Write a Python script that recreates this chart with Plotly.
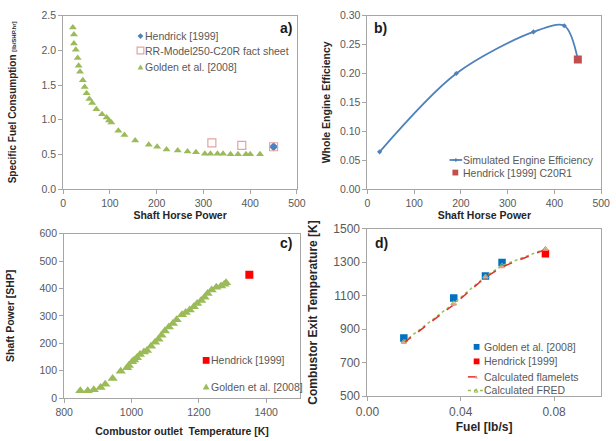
import plotly.graph_objects as go

W, H = 616, 441
FONT = "Liberation Sans, Arial, sans-serif"
TICK_COLOR = "#595959"
TITLE_COLOR = "#262626"
LINE_COLOR = "#A6A6A6"

# ---------------- data ----------------
# panel a
a_golden_shp = [20.7, 23, 23, 27, 31, 33, 36, 42, 46, 50, 56, 62, 71, 83, 93, 98, 103, 118, 131,
                154, 183, 201, 221, 245, 266, 284, 303, 315, 330, 342, 358, 374, 391, 400, 421]
a_golden_sfc = [2.33, 2.23, 2.10, 2.01, 1.89, 1.78, 1.69, 1.57, 1.47, 1.38, 1.30, 1.24, 1.15, 1.08,
                1.03, 0.99, 0.96, 0.84, 0.78, 0.70, 0.64, 0.61, 0.57, 0.555, 0.54, 0.53, 0.51, 0.51,
                0.51, 0.51, 0.50, 0.50, 0.50, 0.50, 0.50]
a_rr_shp = [318, 382, 450]
a_rr_sfc = [0.667, 0.63, 0.61]
a_hend_shp = [450]
a_hend_sfc = [0.61]

# panel b
b_sim_shp = [26, 190, 355, 421, 450]
b_sim_eff = [0.0644, 0.200, 0.272, 0.2826, 0.2244]
b_hend_shp = [450]
b_hend_eff = [0.2244]

# panel c
c_golden_T = [848, 870, 888, 908, 922, 944, 968, 987, 992, 1002, 1008, 1016, 1025, 1037, 1046,
              1058, 1070, 1080, 1089, 1099, 1111, 1123, 1134, 1150, 1161, 1173, 1185, 1195, 1207,
              1217, 1226, 1238, 1252, 1266, 1276, 1281]
c_golden_P = [27, 27, 31, 39, 51, 72, 98, 111, 119, 133, 139, 147, 159, 168, 174, 189, 204, 215,
              229, 245, 259, 272, 286, 304, 312, 321, 333, 345, 356, 368, 382, 394, 404, 409, 415, 421]
c_hend_T = [1350]
c_hend_P = [450]

# panel d
d_golden_fuel = [0.0156, 0.0370, 0.0506, 0.0577]
d_golden_T = [848, 1086, 1218, 1299]
d_hend_fuel = [0.0763]
d_hend_T = [1350]
d_calc_fuel = [0.0156, 0.0370, 0.0506, 0.0577, 0.0763]
d_flamelet_T = [819, 1047, 1210, 1272, 1376]
d_fred_T = [825, 1055, 1215, 1280, 1380]

# ---------------- figure ----------------
fig = go.Figure()

GREEN = "#9BBB59"
BLUE = "#4F81BD"

# a
fig.add_trace(go.Scatter(x=a_golden_shp, y=a_golden_sfc, mode="markers", name="Golden et al. [2008]",
                         marker=dict(symbol="triangle-up", size=7, color=GREEN), xaxis="x", yaxis="y",
                         showlegend=False))
fig.add_trace(go.Scatter(x=a_hend_shp, y=a_hend_sfc, mode="markers", name="Hendrick [1999]",
                         marker=dict(symbol="diamond", size=7, color=BLUE), xaxis="x", yaxis="y",
                         showlegend=False))
fig.add_trace(go.Scatter(x=a_rr_shp, y=a_rr_sfc, mode="markers", name="RR-Model250-C20R fact sheet",
                         marker=dict(symbol="square-open", size=8, color="#E6A3A2", line=dict(width=1.2)),
                         xaxis="x", yaxis="y", showlegend=False))

# b
fig.add_trace(go.Scatter(x=b_sim_shp, y=b_sim_eff, mode="lines+markers", name="Simulated Engine Efficiency",
                         line=dict(color=BLUE, width=1.8, shape="spline", smoothing=0.9),
                         marker=dict(symbol="diamond", size=4, color=BLUE), xaxis="x2", yaxis="y2",
                         showlegend=False))
fig.add_trace(go.Scatter(x=b_hend_shp, y=b_hend_eff, mode="markers", name="Hendrick [1999] C20R1",
                         marker=dict(symbol="square", size=8, color="#C0504D"), xaxis="x2", yaxis="y2",
                         showlegend=False))

# c
fig.add_trace(go.Scatter(x=c_golden_T, y=c_golden_P, mode="markers", name="Golden et al. [2008]",
                         marker=dict(symbol="triangle-up", size=9, color=GREEN), xaxis="x3", yaxis="y3",
                         showlegend=False))
fig.add_trace(go.Scatter(x=c_hend_T, y=c_hend_P, mode="markers", name="Hendrick [1999]",
                         marker=dict(symbol="square", size=8, color="#FF0000"), xaxis="x3", yaxis="y3",
                         showlegend=False))

# d
fig.add_trace(go.Scatter(x=d_golden_fuel, y=d_golden_T, mode="markers", name="Golden et al. [2008]",
                         marker=dict(symbol="square", size=7.5, color="#0070C0"), xaxis="x4", yaxis="y4",
                         showlegend=False))
fig.add_trace(go.Scatter(x=d_hend_fuel, y=d_hend_T, mode="markers", name="Hendrick [1999]",
                         marker=dict(symbol="square", size=7.5, color="#FF0000"), xaxis="x4", yaxis="y4",
                         showlegend=False))
fig.add_trace(go.Scatter(x=d_calc_fuel, y=d_fred_T, mode="lines+markers", name="Calculated FRED",
                         line=dict(color=GREEN, width=1.5, dash="dot"),
                         marker=dict(symbol="triangle-up-open", size=5, color=GREEN), xaxis="x4", yaxis="y4",
                         showlegend=False))
fig.add_trace(go.Scatter(x=d_calc_fuel, y=d_flamelet_T, mode="lines+markers", name="Calculated flamelets",
                         line=dict(color="#E0302A", width=1.5, dash="dash"),
                         marker=dict(symbol="triangle-up", size=5, color="#E89A96"), xaxis="x4", yaxis="y4",
                         showlegend=False))


def px_dom(x0, x1):
    return [x0 / W, x1 / W]


def py_dom(top, bottom):
    return [1 - bottom / H, 1 - top / H]


def axis_common(fs):
    return dict(showline=True, mirror=True, linecolor=LINE_COLOR, linewidth=1, ticks="outside",
                ticklen=4, tickcolor=LINE_COLOR, showgrid=False, zeroline=False,
                tickfont=dict(family=FONT, size=fs, color=TICK_COLOR), fixedrange=True)


def title(text, fs, standoff):
    return dict(text=text, font=dict(family=FONT, size=fs, color=TITLE_COLOR), standoff=standoff)


fig.update_layout(
    width=W, height=H, margin=dict(l=0, r=0, t=0, b=0),
    paper_bgcolor="white", plot_bgcolor="white", showlegend=False,
    xaxis=dict(domain=px_dom(53, 295), range=[0, 500], tickvals=[0, 100, 200, 300, 400, 500],
               title=title("<b>Shaft Horse Power</b>", 10.5, 2), anchor="y", **axis_common(10.5)),
    yaxis=dict(domain=py_dom(9, 188), range=[0, 2.5], tickvals=[0, 0.5, 1.0, 1.5, 2.0, 2.5],
               tickformat=".1f",
               title=title("<b>Specific Fuel Consumption <span style='font-size:6px'>[lb/SHP.hr]</span></b>",
                           10, 22), anchor="x", **axis_common(10.5)),
    xaxis2=dict(domain=px_dom(368, 610), range=[0, 500], tickvals=[0, 100, 200, 300, 400, 500],
                title=title("<b>Shaft Horse Power</b>", 10.5, 2), anchor="y2", **axis_common(10.5)),
    yaxis2=dict(domain=py_dom(9, 188), range=[0, 0.30], tickvals=[0, 0.05, 0.10, 0.15, 0.20, 0.25, 0.30],
                tickformat=".2f", title=title("<b>Whole Engine Efficiency</b>", 10.5, 7),
                anchor="x2", **axis_common(10.5)),
    xaxis3=dict(domain=px_dom(54, 298), range=[800, 1500], tickvals=[800, 1000, 1200, 1400],
                title=title("<b>Combustor outlet  Temperature [K]</b>", 10.5, 10), anchor="y3",
                **axis_common(10.5)),
    yaxis3=dict(domain=py_dom(234, 404), range=[0, 600], tickvals=[0, 100, 200, 300, 400, 500, 600],
                title=title("<b>Shaft Power [SHP]</b>", 10.5, 22), anchor="x3", **axis_common(10.5)),
    xaxis4=dict(domain=px_dom(368, 609.5), range=[0, 0.10], tickvals=[0, 0.04, 0.08], tickformat=".2f",
                title=title("<b>Fuel [lb/s]</b>", 12, 4), anchor="y4", **axis_common(12)),
    yaxis4=dict(domain=py_dom(229, 402), range=[500, 1500], tickvals=[500, 700, 900, 1100, 1300, 1500],
                title=title("<b>Combustor Exit Temperature [K]</b>", 12, 13), anchor="x4",
                **axis_common(12)),
)

# ---------------- legends & panel labels (paper coords from pixels) ----------------
shapes = []
annotations = []


def P(x, y):
    return x / W, 1 - y / H


def key_square(cx, cy, s, color, open_=False, lw=1.2):
    x0, y0 = P(cx - s / 2, cy + s / 2)
    x1, y1 = P(cx + s / 2, cy - s / 2)
    shapes.append(dict(type="rect", xref="paper", yref="paper", x0=x0, y0=y0, x1=x1, y1=y1,
                       fillcolor="rgba(0,0,0,0)" if open_ else color,
                       line=dict(color=color, width=lw if open_ else 0)))


def key_poly(points, color, open_=False):
    pts = [P(x, y) for x, y in points]
    path = "M " + " L ".join(f"{x:.5f},{y:.5f}" for x, y in pts) + " Z"
    shapes.append(dict(type="path", xref="paper", yref="paper", path=path,
                       fillcolor="rgba(0,0,0,0)" if open_ else color,
                       line=dict(color=color, width=1 if open_ else 0)))


def key_tri(cx, cy, s, color, open_=False):
    h = s * 0.87
    key_poly([(cx - s / 2, cy + h / 2), (cx + s / 2, cy + h / 2), (cx, cy - h / 2)], color, open_)


def key_diamond(cx, cy, s, color):
    key_poly([(cx, cy - s / 2), (cx + s / 2, cy), (cx, cy + s / 2), (cx - s / 2, cy)], color)


def key_line(x0p, x1p, yp, color, dash, width=1.5):
    a0, b0 = P(x0p, yp)
    a1, b1 = P(x1p, yp)
    shapes.append(dict(type="line", xref="paper", yref="paper", x0=a0, y0=b0, x1=a1, y1=b1,
                       line=dict(color=color, width=width, dash=dash)))


def text(xp, yp, s, fs=10.5, color=TICK_COLOR, bold=False):
    x, y = P(xp, yp)
    annotations.append(dict(xref="paper", yref="paper", x=x, y=y, xanchor="left", yanchor="middle",
                            text=f"<b>{s}</b>" if bold else s, showarrow=False,
                            font=dict(family=FONT, size=fs, color=color)))


# panel a legend
key_diamond(133, 30, 6, BLUE)
text(136, 30, "Hendrick [1999]")
key_square(133, 45, 7, "#E6A3A2", open_=True)
text(136, 45, "RR-Model250-C20R fact sheet")
key_tri(133, 62, 6, GREEN)
text(136, 62, "Golden et al. [2008]")
text(275, 22, "a)", fs=14, color="#1a1a1a", bold=True)

# panel b legend
key_line(453, 466, 158, BLUE, "solid", 1.8)
key_diamond(459.5, 158, 4, BLUE)
text(465, 158, "Simulated Engine Efficiency")
key_square(459, 171, 6, "#C0504D")
text(465, 171, "Hendrick [1999] C20R1")
text(373, 22, "b)", fs=14, color="#1a1a1a", bold=True)

# panel c legend
key_square(201, 365, 7, "#FF0000")
text(204, 365, "Hendrick [1999]")
key_tri(201, 392, 7, GREEN)
text(204, 392, "Golden et al. [2008]")
text(275, 244, "c)", fs=14, color="#1a1a1a", bold=True)

# panel d legend
key_square(481, 351, 6, "#0070C0")
text(487, 351, "Golden et al. [2008]")
key_square(481, 366, 6, "#FF0000")
text(487, 366, "Hendrick [1999]")
key_line(472, 489, 382, "#E0302A", "dash")
key_tri(480.5, 382, 4, "#E89A96")
text(487, 382, "Calculated flamelets")
key_line(472, 489, 396, GREEN, "dot")
key_tri(480.5, 396, 4, GREEN, open_=True)
text(487, 396, "Calculated FRED")
text(374, 244, "d)", fs=14, color="#1a1a1a", bold=True)

fig.update_layout(shapes=shapes, annotations=annotations)

fig.write_html("out.html")
